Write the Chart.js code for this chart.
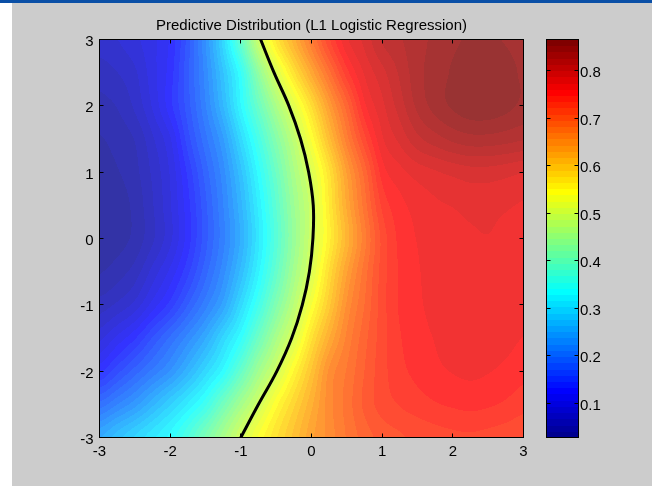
<!DOCTYPE html>
<html>
<head>
<meta charset="utf-8">
<script src="https://cdn.jsdelivr.net/npm/chart.js@4.4.1/dist/chart.umd.min.js"></script>
<style>
  html, body { margin: 0; padding: 0; background: #ffffff; width: 652px; height: 486px; overflow: hidden; }
  #titlebar { position: absolute; left: 0; top: 0; width: 652px; height: 3px; background: #0a4fa6; }
  #figure { position: absolute; left: 12px; top: 3px; width: 640px; height: 483px; background: #cccccc; }
  #chart { position: absolute; left: 0; top: 0; }
</style>
</head>
<body>
<div id="titlebar"></div>
<div id="figure"></div>
<canvas id="chart" width="652" height="486"></canvas>
<script>
// ---- data -------------------------------------------------------------
const titleText = 'Predictive Distribution (L1 Logistic Regression)';

// grid nodes of the predictive probability surface
const xNodes = [-3, -2.75, -2.5, -2.25, -2, -1.75, -1.5, -1.25, -1, -0.75, -0.5, -0.25,
                0, 0.25, 0.5, 0.75, 1, 1.25, 1.5, 1.75, 2, 2.25, 2.5, 2.75, 3];
const yNodes = [3, 2.5, 2, 1.5, 1, 0.5, 0, -0.5, -1, -1.5, -2, -2.5, -3];

// p(y=1 | x) along each grid row (one array per yNodes entry, left to right)
const probAtY3    = [0.075,0.080,0.090,0.103,0.122,0.165,0.224,0.297,0.390,0.490,0.569,0.625,0.680,0.733,0.772,0.791,0.815,0.825,0.835,0.843,0.850,0.855,0.855,0.852,0.848];
const probAtY2_5  = [0.060,0.067,0.078,0.101,0.126,0.169,0.217,0.276,0.342,0.433,0.508,0.575,0.635,0.691,0.743,0.776,0.796,0.816,0.835,0.846,0.855,0.866,0.864,0.858,0.851];
const probAtY2    = [0.050,0.055,0.070,0.095,0.128,0.166,0.210,0.263,0.329,0.395,0.459,0.517,0.580,0.646,0.703,0.758,0.784,0.807,0.830,0.845,0.855,0.862,0.862,0.857,0.850];
const probAtY1_5  = [0.040,0.046,0.055,0.078,0.105,0.153,0.194,0.236,0.298,0.360,0.422,0.480,0.542,0.612,0.677,0.731,0.772,0.791,0.810,0.821,0.830,0.835,0.835,0.832,0.828];
const probAtY1    = [0.035,0.040,0.050,0.070,0.095,0.136,0.178,0.219,0.273,0.335,0.397,0.458,0.510,0.575,0.645,0.701,0.754,0.770,0.780,0.786,0.791,0.795,0.795,0.792,0.788];
const probAtY0_5  = [0.028,0.034,0.045,0.066,0.092,0.128,0.169,0.211,0.260,0.320,0.382,0.445,0.495,0.566,0.633,0.689,0.738,0.757,0.766,0.772,0.775,0.778,0.778,0.776,0.773];
const probAtY0    = [0.030,0.035,0.045,0.065,0.090,0.126,0.167,0.207,0.253,0.313,0.375,0.440,0.496,0.560,0.622,0.678,0.726,0.752,0.762,0.768,0.771,0.773,0.774,0.772,0.769];
const probAtYm0_5 = [0.040,0.048,0.060,0.085,0.110,0.142,0.180,0.219,0.268,0.326,0.388,0.452,0.509,0.580,0.642,0.689,0.728,0.750,0.760,0.766,0.770,0.772,0.772,0.770,0.767];
const probAtYm1   = [0.060,0.070,0.085,0.112,0.138,0.172,0.206,0.243,0.298,0.355,0.417,0.475,0.538,0.600,0.659,0.696,0.729,0.750,0.759,0.765,0.769,0.770,0.769,0.767,0.764];
const probAtYm1_5 = [0.090,0.110,0.131,0.160,0.188,0.217,0.250,0.294,0.338,0.398,0.457,0.509,0.575,0.630,0.673,0.704,0.729,0.747,0.756,0.762,0.767,0.769,0.768,0.765,0.761];
const probAtYm2   = [0.130,0.154,0.178,0.202,0.226,0.259,0.296,0.334,0.390,0.449,0.498,0.553,0.606,0.659,0.684,0.709,0.730,0.744,0.752,0.758,0.762,0.764,0.762,0.758,0.753];
const probAtYm2_5 = [0.190,0.211,0.232,0.260,0.289,0.318,0.352,0.403,0.453,0.498,0.547,0.588,0.627,0.664,0.688,0.712,0.728,0.736,0.742,0.747,0.750,0.752,0.750,0.746,0.740];
const probAtYm3   = [0.250,0.271,0.292,0.313,0.334,0.368,0.412,0.456,0.500,0.541,0.576,0.608,0.640,0.662,0.684,0.702,0.714,0.720,0.725,0.729,0.732,0.733,0.731,0.728,0.724];

const probRows = [probAtY3, probAtY2_5, probAtY2, probAtY1_5, probAtY1, probAtY0_5, probAtY0,
                  probAtYm0_5, probAtYm1, probAtYm1_5, probAtYm2, probAtYm2_5, probAtYm3];

// decision boundary (p = 0.5)
const boundaryX = [-0.72, -0.53, -0.32, -0.155, -0.04, 0.025, 0.02, -0.03, -0.13, -0.28, -0.49, -0.75, -1.0];
const boundaryY = [3.0, 2.5, 2.0, 1.5, 1.0, 0.5, 0.0, -0.5, -1.0, -1.5, -2.0, -2.5, -3.0];

// tick labels
const axisTicks = [-3, -2, -1, 0, 1, 2, 3];
const colorbarTicks = [0.1, 0.2, 0.3, 0.4, 0.5, 0.6, 0.7, 0.8];

// colour limits follow the data range
const cMin = Math.min(...probRows.map(r => Math.min(...r)));
const cMax = Math.max(...probRows.map(r => Math.max(...r)));

// ---- colormap (64-entry jet) -------------------------------------------
const JET_N = 64;
function jetEntry(i) { // i: 1..64
  let r, g, b;
  if (i < 25) r = 0; else if (i <= 40) r = (i - 24) / 16; else if (i <= 55) r = 1; else r = (72 - i) / 16;
  if (i < 9) g = 0; else if (i <= 24) g = (i - 8) / 16; else if (i <= 39) g = 1; else if (i <= 55) g = (56 - i) / 16; else g = 0;
  if (i <= 8) b = (i + 8) / 16; else if (i <= 23) b = 1; else if (i <= 39) b = (40 - i) / 16; else b = 0;
  return [r * 255, g * 255, b * 255];
}
const jetMap = Array.from({length: JET_N}, (_, k) => jetEntry(k + 1));
function colorIndex(v) {
  const k = Math.floor((v - cMin) / (cMax - cMin) * JET_N);
  return Math.max(0, Math.min(JET_N - 1, k));
}

// smooth (Catmull-Rom) shading of the grid between its nodes
function cubic(p0, p1, p2, p3, t) {
  return 0.5 * (2 * p1 + (p2 - p0) * t + (2 * p0 - 5 * p1 + 4 * p2 - p3) * t * t +
                (3 * p1 - p0 - 3 * p2 + p3) * t * t * t);
}
function gridPos(nodes, v) {
  const f = (v - nodes[0]) / (nodes[1] - nodes[0]);
  const n = nodes.length;
  const cl = Math.max(0, Math.min(n - 1, f));
  const i = Math.min(n - 2, Math.floor(cl));
  return [i, cl - i];
}
function rowAt(row, i, t) {
  const n = row.length;
  const g = k => row[Math.max(0, Math.min(n - 1, k))];
  return cubic(g(i - 1), g(i), g(i + 1), g(i + 2), t);
}
function surface(xv, yv) {
  const [i, tx] = gridPos(xNodes, xv);
  const [j, ty] = gridPos(yNodes, yv);
  const m = probRows.length;
  const r = k => rowAt(probRows[Math.max(0, Math.min(m - 1, k))], i, tx);
  return cubic(r(j - 1), r(j), r(j + 1), r(j + 2), ty);
}

// ---- plugins ------------------------------------------------------------
const FACE_ALPHA = 0.8;

const surfacePlugin = {
  id: 'surface',
  beforeDatasetsDraw(chart) {
    const {ctx, chartArea: a, scales: {x, y}} = chart;
    const x0 = Math.ceil(a.left), x1 = Math.floor(a.right);
    const y0 = Math.ceil(a.top), y1 = Math.floor(a.bottom);
    const w = x1 - x0, h = y1 - y0;
    const img = ctx.createImageData(w, h);
    for (let jj = 0; jj < h; jj++) {
      const yv = y.getValueForPixel(y0 + jj + 0.5);
      for (let ii = 0; ii < w; ii++) {
        const xv = x.getValueForPixel(x0 + ii + 0.5);
        const c = jetMap[colorIndex(surface(xv, yv))];
        const p = (jj * w + ii) * 4;
        img.data[p]     = Math.round(c[0] * FACE_ALPHA + 255 * (1 - FACE_ALPHA));
        img.data[p + 1] = Math.round(c[1] * FACE_ALPHA + 255 * (1 - FACE_ALPHA));
        img.data[p + 2] = Math.round(c[2] * FACE_ALPHA + 255 * (1 - FACE_ALPHA));
        img.data[p + 3] = 255;
      }
    }
    ctx.putImageData(img, x0, y0);
  }
};

const TICK_LEN = 4;
const CB_LEFT = 546, CB_WIDTH = 33;

const framePlugin = {
  id: 'frame',
  afterDatasetsDraw(chart) {
    const {ctx, chartArea: a, scales: {x, y, cb}} = chart;
    ctx.save();
    ctx.strokeStyle = '#000';
    ctx.lineWidth = 1;
    ctx.strokeRect(a.left, a.top, a.right - a.left, a.bottom - a.top);
    ctx.beginPath();
    x.ticks.forEach(t => {
      const px = Math.round(x.getPixelForValue(t.value) - 0.5) + 0.5;
      ctx.moveTo(px, a.bottom); ctx.lineTo(px, a.bottom - TICK_LEN);
      ctx.moveTo(px, a.top);    ctx.lineTo(px, a.top + TICK_LEN);
    });
    y.ticks.forEach(t => {
      const py = Math.round(y.getPixelForValue(t.value) - 0.5) + 0.5;
      ctx.moveTo(a.left, py);  ctx.lineTo(a.left + TICK_LEN, py);
      ctx.moveTo(a.right, py); ctx.lineTo(a.right - TICK_LEN, py);
    });
    ctx.stroke();

    // colorbar: one band per colormap entry
    const d = (cMax - cMin) / JET_N;
    for (let k = 0; k < JET_N; k++) {
      const yTop = cb.getPixelForValue(cMin + (k + 1) * d);
      const yBot = cb.getPixelForValue(cMin + k * d);
      const c = jetMap[k];
      ctx.fillStyle = `rgb(${Math.round(c[0])},${Math.round(c[1])},${Math.round(c[2])})`;
      ctx.fillRect(CB_LEFT, Math.floor(yTop), CB_WIDTH, Math.ceil(yBot) - Math.floor(yTop));
    }
    ctx.strokeRect(CB_LEFT + 0.5, a.top, CB_WIDTH - 1, a.bottom - a.top);
    ctx.beginPath();
    cb.ticks.forEach(t => {
      const py = Math.round(cb.getPixelForValue(t.value) - 0.5) + 0.5;
      ctx.moveTo(CB_LEFT + 0.5, py); ctx.lineTo(CB_LEFT + 0.5 + TICK_LEN, py);
      ctx.moveTo(CB_LEFT + CB_WIDTH - 0.5, py); ctx.lineTo(CB_LEFT + CB_WIDTH - 0.5 - TICK_LEN, py);
    });
    ctx.stroke();
    ctx.restore();
  }
};

// tick labels sit a little below their tick positions
function lowerLabels(dy) {
  return scale => {
    if (scale.$lowered) return;
    scale.$lowered = true;
    const compute = scale.getLabelItems.bind(scale);
    scale.getLabelItems = area => compute(area).map(item => Object.assign({}, item, {textOffset: item.textOffset + dy}));
  };
}

// ---- chart --------------------------------------------------------------
const FONT = {family: "'Liberation Sans', Arial, Helvetica, sans-serif", size: 15, weight: 'normal', lineHeight: 1.2};

const hiddenGrid = {display: false, drawTicks: false};
const hiddenBorder = {display: false};

new Chart(document.getElementById('chart'), {
  type: 'scatter',
  data: {
    datasets: [{
      label: 'p = 0.5',
      data: boundaryX.map((bx, i) => ({x: bx, y: boundaryY[i]})),
      showLine: true,
      borderColor: '#000000',
      borderWidth: 3,
      pointRadius: 0,
      tension: 0.4,
      fill: false
    }]
  },
  options: {
    responsive: false,
    animation: false,
    devicePixelRatio: 1,
    layout: {padding: 0},
    events: [],
    plugins: {
      legend: {display: false},
      tooltip: {enabled: false},
      title: {
        display: true,
        text: titleText,
        fullSize: false,
        color: '#000000',
        font: FONT,
        padding: {top: 17, bottom: 4.5}
      }
    },
    scales: {
      x: {
        type: 'linear', position: 'bottom', min: -3, max: 3,
        grid: hiddenGrid, border: hiddenBorder,
        afterBuildTicks: s => { s.ticks = axisTicks.map(v => ({value: v})); },
        afterFit: s => { s.height = 48.5; },
        afterUpdate: lowerLabels(1.5),
        ticks: {padding: 4, maxRotation: 0, autoSkip: false, color: '#000', font: FONT,
                callback: v => String(v)}
      },
      y: {
        type: 'linear', position: 'left', min: -3, max: 3,
        grid: hiddenGrid, border: hiddenBorder,
        afterBuildTicks: s => { s.ticks = axisTicks.map(v => ({value: v})); },
        afterFit: s => { s.width = 99.5; },
        afterUpdate: lowerLabels(2.5),
        ticks: {padding: 6, autoSkip: false, color: '#000', font: FONT,
                callback: v => String(v)}
      },
      cb: {
        type: 'linear', position: 'right', min: cMin, max: cMax,
        // the (undrawn) tick length pushes the labels past the colour bar
        grid: {display: false, drawTicks: true, tickLength: 56.5},
        border: hiddenBorder,
        afterBuildTicks: s => { s.ticks = colorbarTicks.map(v => ({value: v})); },
        afterFit: s => { s.width = 128.5; },
        afterUpdate: lowerLabels(2.5),
        ticks: {padding: 0, autoSkip: false, color: '#000', font: FONT,
                callback: v => v.toFixed(1)}
      }
    }
  },
  plugins: [surfacePlugin, framePlugin]
});
</script>
</body>
</html>
